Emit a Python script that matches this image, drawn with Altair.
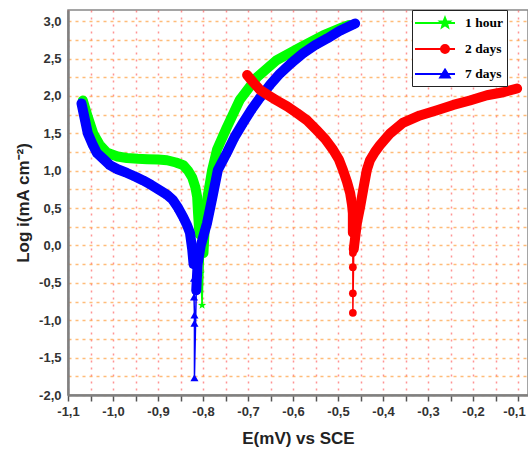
import math
import altair as alt
import pandas as pd

SERIES = ["1 hour", "2 days", "7 days"]
COLORS = ["#00ff00", "#ff0000", "#0000ff"]

# 1 hour (green, stars)
G_E = [-1.067, -1.056, -1.044, -1.030, -1.013, -0.990, -0.969, -0.945, -0.924, -0.900,
       -0.880, -0.860, -0.844, -0.833, -0.824, -0.817, -0.813, -0.811, -0.808,
       -0.805, -0.802,
       -0.799, -0.796, -0.791, -0.780, -0.769, -0.747, -0.718, -0.680, -0.636, -0.584,
       -0.533, -0.489, -0.475]
G_L = [1.94, 1.72, 1.50, 1.35, 1.24, 1.19, 1.17, 1.16, 1.155, 1.15,
       1.14, 1.11, 1.075, 1.00, 0.91, 0.78, 0.65, 0.43, 0.15,
       -0.37, -0.80,
       -0.10, 0.25, 0.61, 1.00, 1.28, 1.58, 1.95, 2.25, 2.48, 2.65,
       2.81, 2.92, 2.95]
G_TAIL = (19, 20)

# 2 days (red, circles)
R_E = [-0.702, -0.688, -0.673, -0.655, -0.636, -0.613, -0.591, -0.568, -0.547, -0.528,
       -0.511, -0.498, -0.489, -0.480, -0.473, -0.469, -0.467, -0.467,
       -0.467, -0.467, -0.467, -0.467,
       -0.465, -0.462, -0.458, -0.451, -0.443, -0.436, -0.429, -0.418, -0.407, -0.384,
       -0.356, -0.318, -0.280, -0.244, -0.207, -0.169, -0.133, -0.102]
R_L = [2.28, 2.18, 2.08, 2.01, 1.94, 1.86, 1.77, 1.67, 1.54, 1.42,
       1.28, 1.15, 1.01, 0.85, 0.70, 0.55, 0.43, 0.17,
       -0.10, -0.29, -0.64, -0.90,
       -0.05, 0.10, 0.30, 0.51, 0.78, 1.01, 1.14, 1.25, 1.34, 1.50,
       1.64, 1.74, 1.81, 1.88, 1.94, 2.01, 2.05, 2.10]
R_TAIL = (18, 21)

# 7 days (blue, triangles)
B_E = [-1.070, -1.063, -1.056, -1.046, -1.036, -1.020, -1.007, -0.990, -0.969, -0.950,
       -0.933, -0.915, -0.896, -0.880, -0.867, -0.855, -0.844, -0.836, -0.829, -0.824,
       -0.821,
       -0.820, -0.820, -0.819, -0.819, -0.819,
       -0.815, -0.812, -0.805, -0.798, -0.791, -0.779, -0.767, -0.747, -0.730, -0.711,
       -0.692, -0.673, -0.651, -0.629, -0.604, -0.578, -0.551, -0.524, -0.497, -0.469,
       -0.462]
B_L = [1.90, 1.70, 1.50, 1.36, 1.24, 1.15, 1.075, 1.02, 0.97, 0.92,
       0.87, 0.81, 0.74, 0.68, 0.61, 0.50, 0.38, 0.28, 0.17, -0.05,
       -0.25,
       -0.44, -0.69, -0.93, -1.04, -1.77,
       -0.60, -0.25, 0.00, 0.15, 0.30, 0.65, 1.01, 1.24, 1.45, 1.64,
       1.82, 1.98, 2.15, 2.30, 2.44, 2.57, 2.68, 2.77, 2.87, 2.95,
       2.97]
B_TAIL = (21, 25)

X_TICKS = [round(-1.1 + 0.05 * i, 2) for i in range(21)]
Y_TICKS = [round(-2.0 + 0.25 * i, 2) for i in range(21)]


def star_path(cx, cy, ro, ri):
    pts = []
    for k in range(10):
        r = ro if k % 2 == 0 else ri
        a = -math.pi / 2 + k * math.pi / 5
        pts.append((cx + r * math.cos(a), cy + r * math.sin(a)))
    return "M" + "L".join(f"{x:.3f},{y:.3f}" for x, y in pts) + "Z"


STAR = star_path(0, 0, 1.0, 0.42)
CX = 2.5
LINE = "M-1.25,0L3.75,0"
LEG_PATHS = [
    LINE + star_path(CX, 0, 0.65, 0.28),
    LINE + f"M{CX-0.5},0A0.5,0.5 0 1,0 {CX+0.5},0A0.5,0.5 0 1,0 {CX-0.5},0Z",
    LINE + f"M{CX},-0.55L{CX+0.6},0.45L{CX-0.6},0.45Z",
]


def build(name, es, ls, tail):
    rows = []
    for i, (e, l) in enumerate(zip(es, ls)):
        part = "left" if i < tail[0] else ("tail" if i <= tail[1] else "right")
        rows.append({"series": name, "i": i, "E": e, "L": l, "part": part})
    return pd.DataFrame(rows)


frames = {
    "1 hour": (build("1 hour", G_E, G_L, G_TAIL), STAR, 75),
    "7 days": (build("7 days", B_E, B_L, B_TAIL), "triangle-up", 65),
    "2 days": (build("2 days", R_E, R_L, R_TAIL), "circle", 60),
}

color_scale = alt.Scale(domain=SERIES, range=COLORS)
LEG_EXPR = "datum.label + '\u00a0\u00a0\u00a0\u00a0\u00a0\u00a0'"

lab_x = ("abs(round(datum.value*20)) % 2 == 1 ? '' : "
         "replace(replace(format(datum.value, '.1f'), '.', ','), '\u2212', '-')")
lab_y = ("abs(round(datum.value*4)) % 2 == 1 ? '' : "
         "replace(replace(format(datum.value, '.1f'), '.', ','), '\u2212', '-')")

x_enc = alt.X(
    "E:Q",
    scale=alt.Scale(domain=[-1.1, -0.0778], nice=False, zero=False),
    axis=alt.Axis(
        values=X_TICKS, labelExpr=lab_x, labelOverlap=False, labelFlush=False,
        labelOffset={"condition": {"test": "datum.value > -0.12", "value": -4}, "value": 0},
        grid=True, gridColor="#ff4d4d", gridDash=[2, 5], gridWidth=1.5, gridOpacity=0.6,
        tickSize=6, tickColor="#555555", tickWidth=1.5,
        domainColor="#808080", domainWidth=2.5,
        labelFont="Liberation Sans", labelFontWeight="bold", labelFontSize=13,
        labelColor="#333333", labelPadding=4,
        title="E(mV) vs SCE", titleFont="Liberation Sans", titleFontWeight="bold",
        titleFontSize=17, titleColor="#222222", titlePadding=12,
    ),
)
y_enc = alt.Y(
    "L:Q",
    scale=alt.Scale(domain=[-2.0, 3.15], nice=False, zero=False),
    axis=alt.Axis(
        values=Y_TICKS, labelExpr=lab_y, labelOverlap=False, labelFlush=False,
        grid=True, gridColor="#ffa040", gridDash=[3, 4], gridWidth=1.5, gridOpacity=0.7,
        ticks=False, domainColor="#808080", domainWidth=2.5,
        labelFont="Liberation Sans", labelFontWeight="bold", labelFontSize=13,
        labelColor="#333333", labelPadding=7,
        title="Log i(mA cm\u207b\u00b2)", titleFont="Liberation Sans", titleFontWeight="bold",
        titleFontSize=17, titleColor="#222222", titlePadding=6,
    ),
)

col = alt.Color("series:N", scale=color_scale, title=None,
                legend=alt.Legend(labelExpr=LEG_EXPR))

layers = []
for name in ["1 hour", "7 days", "2 days"]:
    df, shape, size = frames[name]
    base = alt.Chart(df)
    thin = base.mark_line(strokeWidth=1.5).encode(x=x_enc, y=y_enc, color=col, order="i:Q")
    thick = base.mark_line(strokeWidth=10, strokeCap="round", strokeJoin="round").encode(
        x=x_enc, y=y_enc, color=col, order="i:Q", detail="part:N"
    ).transform_filter("datum.part != 'tail'")
    pts = base.mark_point(shape=shape, filled=True, size=size, opacity=1).encode(
        x=x_enc, y=y_enc, color=col
    )
    layers += [thin, thick, pts]

all_df = pd.concat([f[0] for f in frames.values()])
legend_layer = alt.Chart(all_df).mark_point(filled=True, opacity=1).encode(
    x=x_enc, y=y_enc,
    color=col,
    shape=alt.Shape("series:N", scale=alt.Scale(domain=SERIES, range=LEG_PATHS), title=None,
                    legend=alt.Legend(labelExpr=LEG_EXPR)),
).transform_filter("false")
layers.append(legend_layer)

chart = alt.layer(*layers).properties(
    width=460, height=385,
    padding={"left": 68, "top": 10, "right": 0, "bottom": 57},
    autosize=alt.AutoSizeParams(type="none"),
).configure_view(
    stroke="#888888", strokeWidth=1.5
).configure_legend(
    orient="none", legendX=344, legendY=0,
    strokeColor="#222222", fillColor="white", padding=4, rowPadding=8,
    symbolSize=256, symbolStrokeWidth=2, labelOffset=31,
    labelFont="Liberation Serif", labelFontWeight="bold", labelFontSize=13.5,
    labelColor="black",
)

chart.save("out.html", embed_options={"renderer": "svg", "actions": False})
